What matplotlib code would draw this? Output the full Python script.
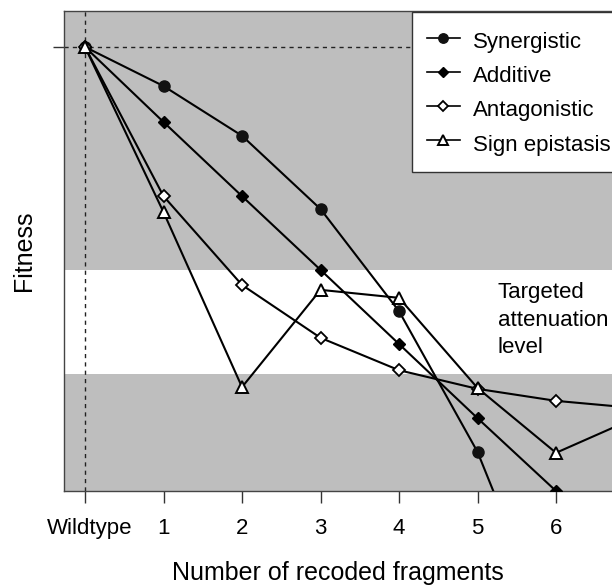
import matplotlib
matplotlib.use("Agg")
import matplotlib.pyplot as plt
from matplotlib.transforms import ScaledTranslation

plt.rcParams['font.family'] = ['Liberation Sans', 'DejaVu Sans']

# Data (fitness, relative: wildtype = 1)
x_all = [0, 1, 2, 3, 4, 5, 6, 7]
tick_labels = ['Wildtype', '1', '2', '3', '4', '5', '6']
synergistic = [1.0, 0.912, 0.800, 0.635, 0.405, 0.088, -0.35]
additive = [1.0, 0.831, 0.664, 0.498, 0.331, 0.164, 0.0, -0.167]
antagonistic = [1.0, 0.664, 0.464, 0.345, 0.272, 0.230, 0.203, 0.187]
sign_epistasis = [1.0, 0.628, 0.234, 0.453, 0.435, 0.232, 0.086, 0.164]
band_low, band_high = 0.264, 0.498
wildtype_fitness = 1.0

W, H = 612, 585
fig = plt.figure(figsize=(W / 100, H / 100), dpi=100)
ax = fig.add_axes([64 / W, 1 - 491 / H, 1 - 64 / W, (491 - 11) / H])
ax.set_facecolor('#bebebe')
ax.set_xlim(-0.2675, 6.713)
ax.set_ylim(0, 1.081)

ax.axhspan(band_low, band_high, color='white', zorder=0.5, lw=0)
ax.axvline(0, color='#222222', lw=1, ls=(0, (3, 3)), zorder=1)
ax.axhline(wildtype_fitness, color='#222222', lw=1, ls=(0, (3, 3)), zorder=1)

lw = 1.5
ax.plot(x_all[:len(synergistic)], synergistic, '-', color='black', lw=lw,
        marker='o', ms=8, mfc='#111111', mec='#111111', label='Synergistic', zorder=3)
ax.plot(x_all, additive, '-', color='black', lw=lw,
        marker='D', ms=6.5, mfc='black', mec='black', label='Additive', zorder=3)
ax.plot(x_all, antagonistic, '-', color='black', lw=lw,
        marker='D', ms=6, mfc='white', mec='black', mew=1.3, label='Antagonistic', zorder=3)
ax.plot(x_all, sign_epistasis, '-', color='black', lw=lw,
        marker='^', ms=8.5, mfc='white', mec='black', mew=1.4, label='Sign epistasis', zorder=4)

ax.set_xticks(range(len(tick_labels)))
ax.set_xticklabels(tick_labels, fontsize=16)
ax.set_yticks([wildtype_fitness])
ax.set_yticklabels([''])
ax.tick_params(axis='x', length=8.6, width=1, color='#333333', pad=11)
ax.tick_params(axis='y', length=8, width=1, color='#333333')
wl = ax.get_xticklabels()[0]
wl.set_transform(wl.get_transform() + ScaledTranslation(5 / 100, 0, fig.dpi_scale_trans))

for s in ['left', 'bottom', 'top']:
    ax.spines[s].set_color('#444444')
    ax.spines[s].set_linewidth(1)
ax.spines['right'].set_visible(False)

ax.set_xlabel('Number of recoded fragments', fontsize=18, labelpad=16)
ax.set_ylabel('Fitness', fontsize=18, labelpad=9)

ax.text(5.26, 0.385, 'Targeted\nattenuation\nlevel', fontsize=16,
        ha='left', va='center', linespacing=1.38, zorder=2)

leg = ax.legend(loc='upper left', bbox_to_anchor=(412 / W, 1 - 12 / H, 230 / W, 0),
                bbox_transform=fig.transFigure, borderaxespad=0, mode='expand',
                fontsize=16, frameon=True, fancybox=False, handlelength=1.46,
                handleheight=1.5, handletextpad=0.6, labelspacing=0.32,
                borderpad=0.68, markerscale=0.85)
leg.get_frame().set_edgecolor('#333333')
leg.get_frame().set_linewidth(1)
leg.get_frame().set_alpha(1)
for line in leg.get_lines():
    line.set_linewidth(1.2)

fig.savefig('out.png', dpi=100)
